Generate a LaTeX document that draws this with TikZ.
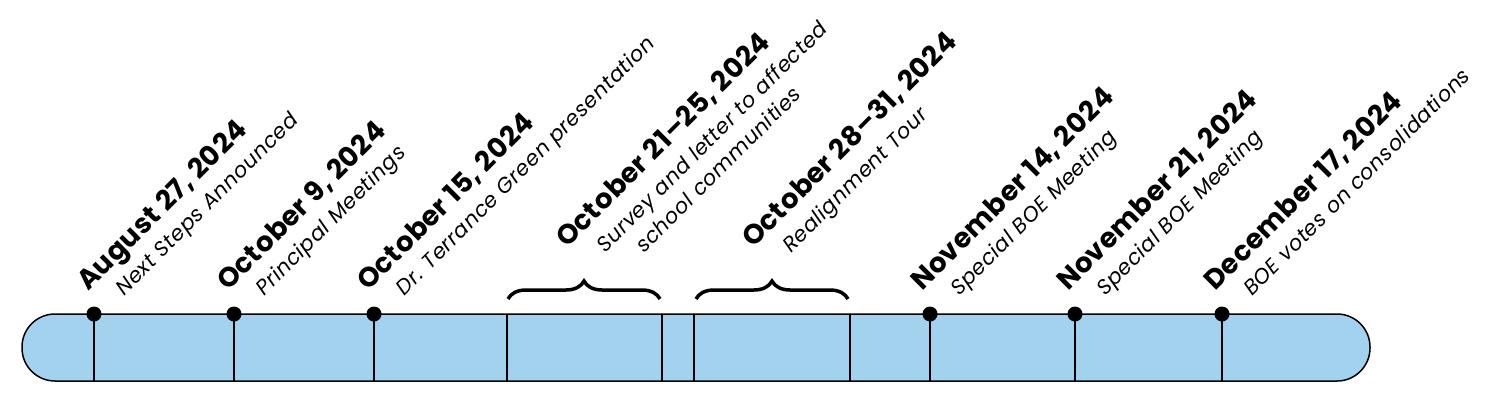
\documentclass[tikz,border=0pt]{standalone}
\usepackage{fontspec}
\setmainfont{Poppins}
\newfontfamily\datefont[LetterSpace=2]{Poppins}
\newfontfamily\descfont[LetterSpace=3]{Poppins}
\usetikzlibrary{decorations.pathreplacing}
\definecolor{barblue}{HTML}{A3D2EF}
\begin{document}
\begin{tikzpicture}[x=1pt,y=-1pt,
  datelbl/.style={rotate=45,anchor=base west,inner sep=0pt,font=\datefont\bfseries\fontsize{27.5}{27.5}\selectfont},
  desclbl/.style={rotate=45,anchor=base west,inner sep=0pt,font=\descfont\itshape\fontsize{21}{21}\selectfont},
  tick/.style={line width=1.5pt},
  dot/.style={circle,fill=black,inner sep=0pt,minimum size=15pt},
  bracestyle/.style={decorate,decoration={brace,amplitude=18pt},line width=3.5pt}]
\useasboundingbox (0,0) rectangle (1500,413);
\node[draw,line width=1.5pt,fill=barblue,rounded corners=33pt,minimum width=1348pt,minimum height=67pt,inner sep=0pt] (bar) at (696,347.5) {};
\foreach \x/\n in {94/a,234/b,374/c,930/d,1075/e,1222/f}{
  \coordinate (t\n) at (\x,314);
  \coordinate (b\n) at (\x,381);
  \draw[tick] (t\n) -- (b\n);
  \node[dot] (d\n) at (t\n) {};
}
\foreach \x/\n in {507/g,662/h,694/i,850/j}{
  \coordinate (t\n) at (\x,314);
  \coordinate (b\n) at (\x,381);
  \draw[tick] (t\n) -- (b\n);
}
\coordinate (br1a) at (508,299); \coordinate (br1b) at (660,299);
\coordinate (br2a) at (696,299); \coordinate (br2b) at (848,299);
\draw[bracestyle] (br1a) -- (br1b);
\draw[bracestyle] (br2a) -- (br2b);
% labels
\node[datelbl] (l1) at (88,292) {August 27, 2024};
\node[desclbl] (m1) at (124,297) {Next Steps Announced};
\node[datelbl] (l2) at (228,292) {October 9, 2024};
\node[desclbl] (m2) at (264,297) {Principal Meetings};
\node[datelbl] (l3) at (368,292) {October 15, 2024};
\node[desclbl] (m3) at (404,297) {Dr. Terrance Green presentation};
\node[datelbl] (l4) at (567,249) {October 21–25, 2024};
\node[desclbl] (m4) at (605,254) {Survey and letter to affected};
\node[desclbl] (n4) at (644,254) {school communities};
\node[datelbl] (l5) at (753,249) {October 28–31, 2024};
\node[desclbl] (m5) at (791,254) {Realignment Tour};
\node[datelbl] (l6) at (922,292) {November 14, 2024};
\node[desclbl] (m6) at (959,297) {Special BOE Meeting};
\node[datelbl] (l7) at (1068,292) {November 21, 2024};
\node[desclbl] (m7) at (1105,297) {Special BOE Meeting};
\node[datelbl] (l8) at (1215,292) {December 17, 2024};
\node[desclbl] (m8) at (1252,297) {BOE votes on consolidations};
\end{tikzpicture}
\end{document}
